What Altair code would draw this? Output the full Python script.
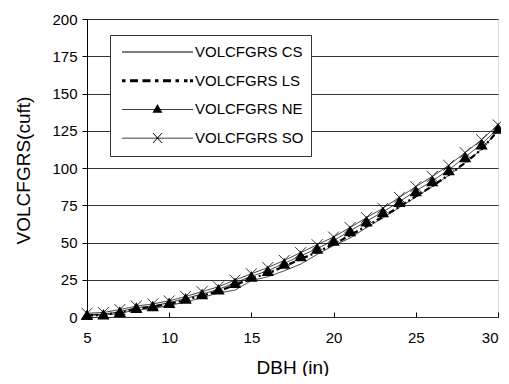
import altair as alt
import pandas as pd

FONT = "Liberation Sans"

dbh = list(range(5, 31))
series_names = ["VOLCFGRS CS", "VOLCFGRS LS", "VOLCFGRS NE", "VOLCFGRS SO"]

vol_cs = [1.2, 1.2, 2.5, 4.8, 5.5, 7.8, 10.0, 13.0, 16.2, 18.0, 24.5, 27.0, 31.0, 35.5,
          42.0, 48.0, 53.0, 60.0, 66.5, 73.5, 80.5, 87.5, 95.0, 103.5, 112.5, 125.0]
vol_ls = [1.0, 1.5, 3.0, 5.5, 6.8, 8.8, 11.5, 14.3, 17.3, 21.5, 25.8, 29.3, 34.0, 38.8,
          43.6, 48.8, 54.8, 61.0, 67.3, 74.0, 81.0, 87.8, 95.3, 103.5, 112.5, 125.0]
vol_ne = [1.5, 1.8, 3.6, 6.3, 7.4, 9.6, 12.5, 15.4, 18.6, 23.0, 27.3, 31.0, 36.0, 41.0,
          46.0, 51.3, 57.8, 64.3, 70.5, 77.4, 84.6, 91.3, 98.7, 107.4, 116.0, 126.6]
vol_so = [2.5, 3.0, 5.0, 7.3, 8.8, 10.8, 13.8, 17.0, 20.3, 24.8, 29.0, 33.2, 38.0, 43.2,
          48.5, 53.7, 60.0, 66.7, 73.0, 80.3, 87.5, 94.3, 101.8, 110.3, 119.0, 129.0]

y_ticks = [0, 25, 50, 75, 100, 125, 150, 175, 200]
x_ticks = [5, 10, 15, 20, 25, 30]

rows = []
for name, vals in zip(series_names, [vol_cs, vol_ls, vol_ne, vol_so]):
    for x, v in zip(dbh, vals):
        rows.append({"dbh": x, "vol": v, "series": name})
df = pd.DataFrame(rows)

x_enc = alt.X(
    "dbh:Q",
    scale=alt.Scale(domain=[5, 30], nice=False, zero=False),
    axis=alt.Axis(
        values=x_ticks, grid=False, domain=False, offset=-5,
        tickSize=5, tickColor="black", labelPadding=13, labelFlush=False,
        labelAlign=alt.ExprRef("datum.value >= 30 ? 'right' : 'center'"),
        labelFont=FONT, labelFontSize=15, labelColor="black",
        title="DBH (in)", titleFont=FONT, titleFontSize=19, titleFontWeight="normal",
        titleColor="black", titleX=205.5, titleY=61, titleAlign="center",
        titleBaseline="alphabetic",
    ),
)
y_enc = alt.Y(
    "vol:Q",
    scale=alt.Scale(domain=[0, 200], nice=False),
    axis=alt.Axis(
        values=y_ticks, grid=True, gridColor="black", gridWidth=0.8,
        domainColor="black", domainWidth=1, tickSize=5, tickColor="black",
        labelPadding=5, labelFont=FONT, labelFontSize=15, labelColor="black",
        title="VOLCFGRS(cuft)", titleFont=FONT, titleFontSize=19,
        titleFontWeight="normal", titleColor="black", titleX=-64, titleY=151,
        titleAngle=270, titleAlign="center", titleBaseline="middle",
    ),
)

# ---- legend symbols: filled custom paths in the [-1, 1] symbol box ----
SYM_W = 71.0           # legend symbol width in px
U = SYM_W / 2.0        # px per symbol unit


def u(px):
    return px / U - 1.0


def rect(x0, x1, half):
    return (f"M{x0:.4f},{-half:.4f}L{x1:.4f},{-half:.4f}"
            f"L{x1:.4f},{half:.4f}L{x0:.4f},{half:.4f}Z")


thin = 0.45 / U
line_path = rect(-1, 1, thin)

ls_segments = [(0, 3.5), (8, 16), (20.5, 28.5), (33, 36.5), (41, 49), (53.5, 57), (62, 65.5), (68, 71)]
ls_path = "".join(rect(u(a), u(b), 1.5 / U) for a, b in ls_segments)

tri_h = 5.5 / U
tri_w = 5.0 / U
ne_path = line_path + (f"M0,{-tri_h:.4f}L{tri_w:.4f},{tri_h * 0.6:.4f}"
                       f"L{-tri_w:.4f},{tri_h * 0.6:.4f}Z")

xa = 4.5 / U
xb = 5.0 / U
xw = 0.5 / U
so_path = line_path + (
    f"M{-xa - xw:.4f},{-xb:.4f}L{-xa + xw:.4f},{-xb:.4f}L{xa + xw:.4f},{xb:.4f}L{xa - xw:.4f},{xb:.4f}Z"
    f"M{xa - xw:.4f},{-xb:.4f}L{xa + xw:.4f},{-xb:.4f}L{-xa + xw:.4f},{xb:.4f}L{-xa - xw:.4f},{xb:.4f}Z"
)

legend = alt.Legend(
    title=None, orient="none", legendX=23, legendY=16, direction="vertical",
    symbolSize=SYM_W * SYM_W, clipHeight=20, rowPadding=8.7, padding=7,
    symbolOffset=5, labelOffset=2,
    labelFont=FONT, labelFontSize=15, labelColor="black",
    strokeColor="#333333", fillColor="white",
    symbolOpacity=1, symbolFillColor="black", symbolStrokeColor="black",
    symbolStrokeWidth=0,
)

# legend-only layer: no rows survive the filter, the legend comes from the scale domain
legend_layer = alt.Chart(df).transform_filter(
    alt.datum.dbh < 0
).mark_point(
    fill="black", stroke="black", strokeWidth=0,
).encode(
    x=x_enc,
    y=y_enc,
    shape=alt.Shape(
        "series:N",
        scale=alt.Scale(domain=series_names, range=[line_path, ls_path, ne_path, so_path]),
        legend=legend,
    ),
)

line_styles = {
    "VOLCFGRS CS": dict(strokeWidth=0.8, strokeDash=[1, 0]),
    "VOLCFGRS LS": dict(strokeWidth=2.3, strokeDash=[6, 3, 2, 3]),
    "VOLCFGRS NE": dict(strokeWidth=0.8, strokeDash=[1, 0]),
    "VOLCFGRS SO": dict(strokeWidth=0.8, strokeDash=[1, 0]),
}

line_layers = []
for name in ["VOLCFGRS CS", "VOLCFGRS SO", "VOLCFGRS NE", "VOLCFGRS LS"]:
    line_layers.append(
        alt.Chart(df).transform_filter(alt.datum.series == name)
        .mark_line(color="black", **line_styles[name])
        .encode(x=x_enc, y=y_enc)
    )

so_pts = alt.Chart(df).transform_filter(
    alt.datum.series == "VOLCFGRS SO"
).mark_point(
    shape="M-1,-1L1,1M1,-1L-1,1", size=120, filled=False, color="black",
    strokeWidth=0.8, opacity=1,
).encode(x=x_enc, y=y_enc)

ne_pts = alt.Chart(df).transform_filter(
    alt.datum.series == "VOLCFGRS NE"
).mark_point(
    shape="triangle-up", size=150, filled=True, color="black", opacity=1,
).encode(x=x_enc, y=y_enc)

chart = alt.layer(*line_layers, so_pts, ne_pts, legend_layer).properties(
    width=411, height=298,
    autosize="none",
    padding={"left": 79, "top": 11, "right": 3, "bottom": 59},
).configure_view(
    stroke="#808080", strokeWidth=1, fill="white"
).configure(background="white")

chart.save("out.html", embed_options={"renderer": "svg", "actions": False})
